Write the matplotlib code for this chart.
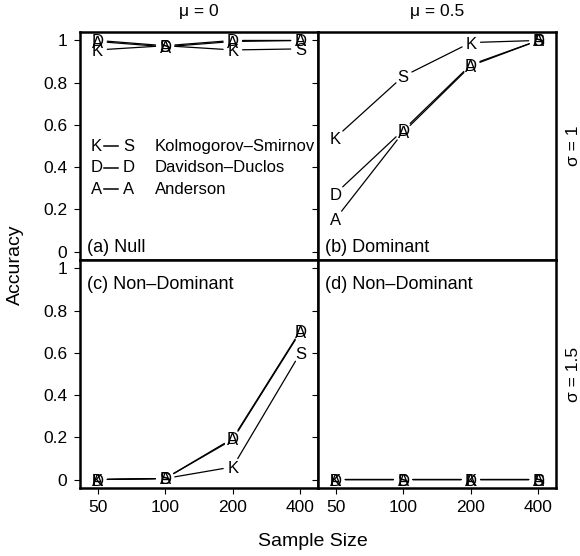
import matplotlib.pyplot as plt

plt.rcParams['font.family'] = ['Liberation Sans', 'DejaVu Sans']

sample_size = [50, 100, 200, 400]
size_labels = ['50', '100', '200', '400']
acc_ticks = [0, 0.2, 0.4, 0.6, 0.8, 1]
acc_labels = ['0', '0.2', '0.4', '0.6', '0.8', '1']
mu_labels = ['μ = 0', 'μ = 0.5']
sigma_labels = ['σ = 1', 'σ = 1.5']
panel_titles = ['(a) Null', '(b) Dominant', '(c) Non–Dominant', '(d) Non–Dominant']

# accuracy per test, one list per panel
ks = [[0.955, 0.975, 0.955, 0.96],
      [0.54, 0.83, 0.99, 1.0],
      [0.0, 0.005, 0.06, 0.60],
      [0.0, 0.0, 0.0, 0.0]]
dd = [[1.0, 0.975, 1.0, 1.0],
      [0.275, 0.575, 0.885, 1.0],
      [0.0, 0.005, 0.195, 0.705],
      [0.0, 0.0, 0.0, 0.0]]
an = [[0.995, 0.97, 0.995, 1.0],
      [0.155, 0.565, 0.88, 1.0],
      [0.0, 0.005, 0.19, 0.70],
      [0.0, 0.0, 0.0, 0.0]]

ks_marks = ['K', 'S', 'K', 'S']
dd_marks = ['D'] * 4
an_marks = ['A'] * 4

W, H = 580, 556
fig = plt.figure(figsize=(W / 100, H / 100), dpi=100)

lefts = [80, 318]
tops = [32, 260]
pw, ph = 238, 228


def draw_series(ax, x, y, marks):
    # R style type="b": lines with gaps around the letters
    for i in range(len(x) - 1):
        ax.annotate('', xy=(x[i + 1], y[i + 1]), xytext=(x[i], y[i]),
                    arrowprops=dict(arrowstyle='-', lw=0.9, color='black',
                                    shrinkA=7, shrinkB=7))
    for xi, yi, m in zip(x, y, marks):
        ax.text(xi, yi, m, ha='center', va='center_baseline', fontsize=12)


axes = []
for r in range(2):
    for c in range(2):
        ax = fig.add_axes([lefts[c] / W, 1 - (tops[r] + ph) / H, pw / W, ph / H])
        axes.append(ax)
        k = r * 2 + c
        ax.set_xscale('log', base=2)
        ax.set_xlim(50 / 2 ** 0.26, 400 * 2 ** 0.26)
        ax.set_ylim(-0.04, 1.04)
        ax.set_xticks(sample_size)
        ax.set_xticks([], minor=True)
        ax.set_yticks(acc_ticks)
        ax.set_xticklabels(size_labels if r == 1 else [])
        ax.set_yticklabels(acc_labels if c == 0 else [])
        ax.tick_params(direction='out', length=4, width=0.8, labelsize=12.5,
                       pad=5)
        for s in ax.spines.values():
            s.set_linewidth(1.8)

        draw_series(ax, sample_size, ks[k], ks_marks)
        draw_series(ax, sample_size, dd[k], dd_marks)
        draw_series(ax, sample_size, an[k], an_marks)

        if r == 0:
            ax.text(0.028, 0.054, panel_titles[k], transform=ax.transAxes,
                    fontsize=13, va='center')
            ax.text(0.5, 1.088, mu_labels[c], transform=ax.transAxes,
                    fontsize=12.5, ha='center', va='center')
        else:
            ax.text(0.028, 0.893, panel_titles[k], transform=ax.transAxes,
                    fontsize=13, va='center')
        if c == 1:
            ax.text(1.072, 0.5, sigma_labels[r], transform=ax.transAxes,
                    fontsize=12.5, rotation=90, ha='center', va='center')

# legend inside panel (a)
ax = axes[0]
leg = [('K', 'S', 'Kolmogorov–Smirnov'),
       ('D', 'D', 'Davidson–Duclos'),
       ('A', 'A', 'Anderson')]
rows = [0.499, 0.404, 0.311]
for (a, b, name), yy in zip(leg, rows):
    ax.text(0.07, yy, a, transform=ax.transAxes, fontsize=12, ha='center', va='center')
    ax.plot([0.101, 0.160], [yy, yy], transform=ax.transAxes, color='black', lw=1.1)
    ax.text(0.206, yy, b, transform=ax.transAxes, fontsize=12, ha='center', va='center')
    ax.text(0.315, yy, name, transform=ax.transAxes, fontsize=12, va='center')

fig.text(15 / W, 1 - 265 / H, 'Accuracy', rotation=90, fontsize=14,
         ha='center', va='center')
fig.text(313 / W, 1 - 541 / H, 'Sample Size', fontsize=14,
         ha='center', va='center')

fig.savefig('out.png', dpi=100)
